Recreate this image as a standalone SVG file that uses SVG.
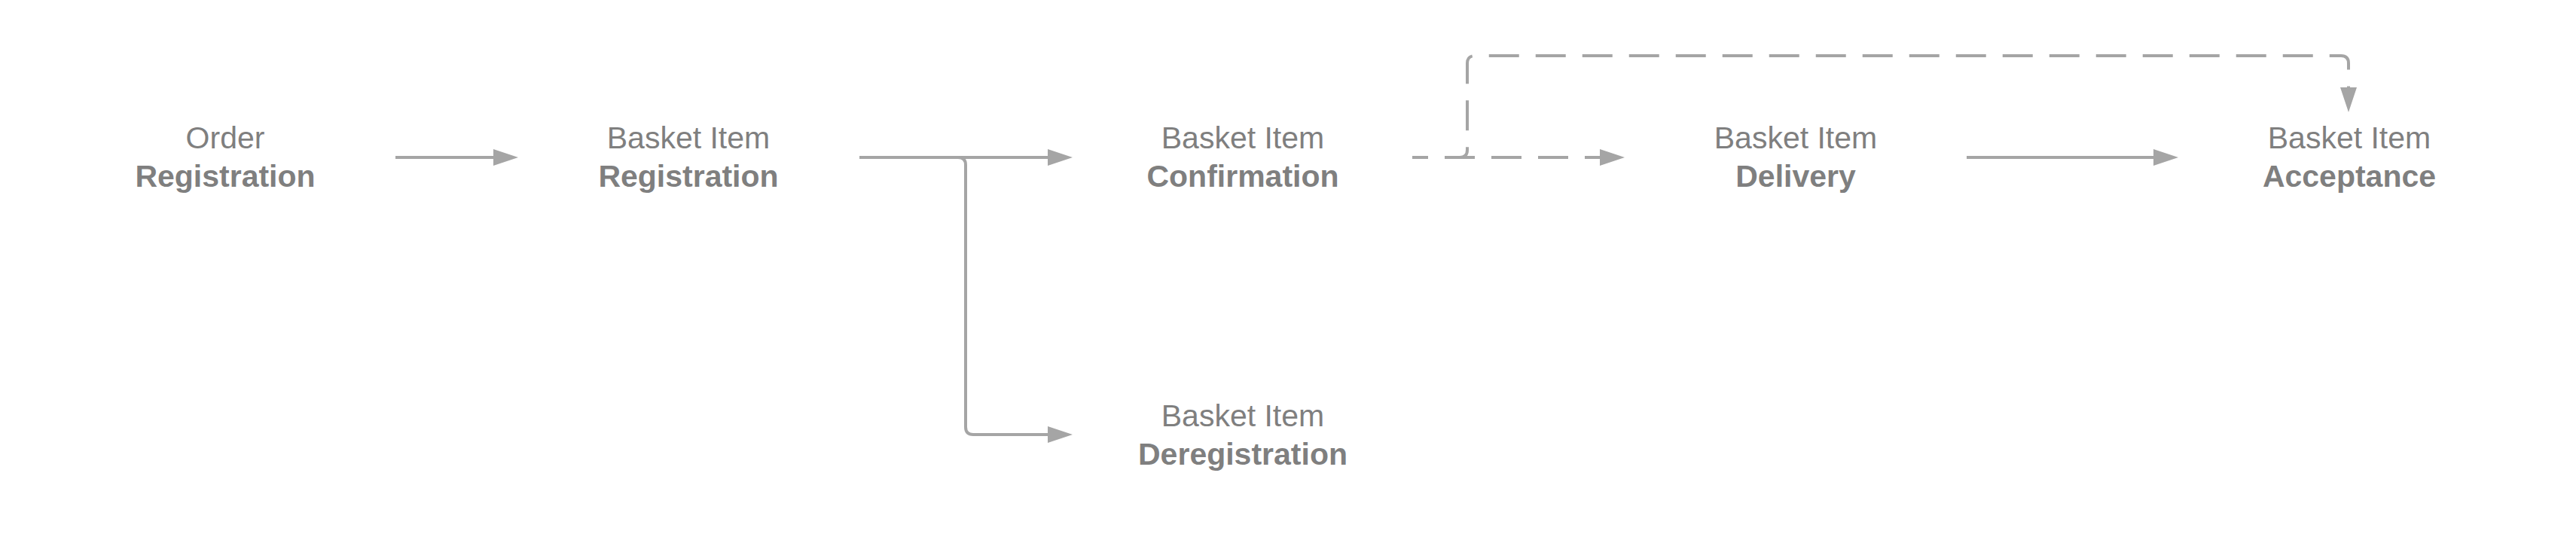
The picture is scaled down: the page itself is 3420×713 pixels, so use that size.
<svg xmlns="http://www.w3.org/2000/svg" width="3420" height="713" viewBox="0 0 3420 713">
<defs>
<style>
.t{font-family:"Liberation Sans",Arial,sans-serif;font-size:41px;fill:#7f7f7f;text-anchor:middle}
.b{font-weight:bold}
.c{fill:none;stroke:#a5a5a5;stroke-width:4;stroke-linejoin:round}
.d{stroke-dasharray:40 22;stroke-dashoffset:19}
.ah{fill:#a5a5a5}
</style>
</defs>
<rect width="3420" height="713" fill="#ffffff"/>
<g id="connectors">
<path class="c" d="M525,209 H656"/>
<polygon class="ah" points="688,209 655,198 655,220"/>
<path class="c" d="M1141,209 H1392"/>
<polygon class="ah" points="1424,209 1391,198 1391,220"/>
<path class="c" d="M1141,209 H1272 Q1282,209 1282,219 V567 Q1282,577 1292,577 H1392"/>
<polygon class="ah" points="1424,577 1391,566 1391,588"/>
<path class="c d" d="M1875,209 H2125"/>
<polygon class="ah" points="2157,209 2124,198 2124,220"/>
<path class="c d" d="M1875,209 H1938 Q1948,209 1948,199 V84 Q1948,74 1958,74 H3108 Q3118,74 3118,84 V117"/>
<polygon class="ah" points="3118,149 3107,116 3129,116"/>
<path class="c" d="M2611,209 H2860"/>
<polygon class="ah" points="2892,209 2859,198 2859,220"/>
</g>
<g id="order-registration">
<text class="t" x="299" y="197">Order</text>
<text class="t b" x="299" y="248">Registration</text>
</g>
<g id="basket-item-registration">
<text class="t" x="914" y="197">Basket Item</text>
<text class="t b" x="914" y="248">Registration</text>
</g>
<g id="basket-item-confirmation">
<text class="t" x="1650" y="197">Basket Item</text>
<text class="t b" x="1650" y="248">Confirmation</text>
</g>
<g id="basket-item-delivery">
<text class="t" x="2384" y="197">Basket Item</text>
<text class="t b" x="2384" y="248">Delivery</text>
</g>
<g id="basket-item-acceptance">
<text class="t" x="3119" y="197">Basket Item</text>
<text class="t b" x="3119" y="248">Acceptance</text>
</g>
<g id="basket-item-deregistration">
<text class="t" x="1650" y="566">Basket Item</text>
<text class="t b" x="1650" y="617">Deregistration</text>
</g>
</svg>
